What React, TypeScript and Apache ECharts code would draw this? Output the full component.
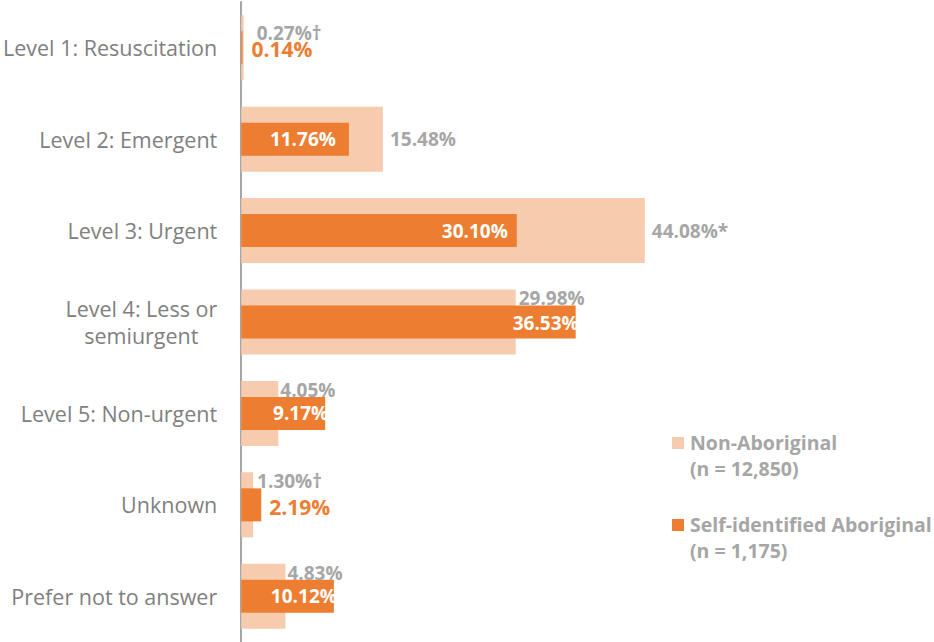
import React, { useEffect, useRef } from "react";
import * as echarts from "echarts";

const categories = [
  "Level 1: Resuscitation",
  "Level 2: Emergent",
  "Level 3: Urgent",
  "Level 4: Less or\nsemiurgent",
  "Level 5: Non-urgent",
  "Unknown",
  "Prefer not to answer",
];
const nonAboriginal = [0.27, 15.48, 44.08, 29.98, 4.05, 1.3, 4.83];
const nonAboriginalNotes = ["†", "", "*", "", "", "†", ""];
const aboriginal = [0.14, 11.76, 30.1, 36.53, 9.17, 2.19, 10.12];
const legendNames = ["Non-Aboriginal", "Self-identified Aboriginal"];
const legendCounts = ["(n = 12,850)", "(n = 1,175)"];

// label layout (style only)
const nonAbOffsets: number[][] = [[11, -15], [5, 0], [5, 0], [1, -24], [0, -23], [2, -24], [0, -23]];
const abInside = [false, true, true, true, true, false, true];
const abOffsets: number[][] = [[7, 1], [-13, 0], [-9, 0], [3, 1], [3, 0], [6, 2], [3, 0]];

const LIGHT = "#F7CBAD";
const ORANGE = "#ED7D31";
const GRAY = "#A6A6A6";
const FONT = "'Open Sans', 'Noto Sans', sans-serif";

export default function App() {
  const ref = useRef<HTMLDivElement>(null);
  useEffect(() => {
    if (!ref.current) return;
    const chart = echarts.init(ref.current, undefined, { renderer: "svg" });
    const valueLabel = {
      fontFamily: FONT,
      fontWeight: "bold" as const,
    };
    chart.setOption({
      animation: false,
      grid: { left: 241, right: 235, top: 2, bottom: 0, containLabel: false },
      xAxis: { type: "value", min: 0, max: 50, show: false },
      yAxis: [
        {
          type: "category",
          data: categories,
          inverse: true,
          axisLine: { show: true, lineStyle: { color: "#A6A6A6", width: 2 } },
          axisTick: { show: false },
          splitLine: { show: false },
          axisLabel: {
            margin: 24,
            color: "#808080",
            fontFamily: FONT,
            fontSize: 21.5,
            lineHeight: 27,
            formatter: (v: string) =>
              v
                .split("\n")
                .map((s) => "{c|" + s + "}")
                .join("\n"),
            rich: {
              c: {
                align: "center",
                color: "#808080",
                fontFamily: FONT,
                fontSize: 21.5,
                lineHeight: 27,
              },
            },
          },
        },
        {
          type: "category",
          data: categories,
          inverse: true,
          show: false,
          position: "left",
        },
      ],
      series: [
        {
          name: legendNames[0],
          type: "bar",
          yAxisIndex: 0,
          barWidth: 65,
          itemStyle: { color: LIGHT },
          data: nonAboriginal.map((v, i) => ({
            value: v,
            label: {
              show: true,
              position: "right",
              distance: 2,
              offset: nonAbOffsets[i],
              color: GRAY,
              fontSize: 19,
              ...valueLabel,
              formatter: v.toFixed(2) + "%" + nonAboriginalNotes[i],
            },
          })),
        },
        {
          name: legendNames[1],
          type: "bar",
          yAxisIndex: 1,
          barWidth: 33,
          itemStyle: { color: ORANGE },
          data: aboriginal.map((v, i) => ({
            value: v,
            label: {
              show: true,
              position: abInside[i] ? "insideRight" : "right",
              distance: abInside[i] ? 0 : 2,
              offset: abOffsets[i],
              color: abInside[i] ? "#FFFFFF" : ORANGE,
              fontSize: abInside[i] ? 19 : 21,
              ...valueLabel,
              formatter: v.toFixed(2) + "%",
            },
          })),
        },
      ],
      graphic: [
        { type: "rect", left: 672, top: 437, shape: { width: 12, height: 12 }, style: { fill: LIGHT } },
        {
          type: "text",
          left: 690,
          top: 429,
          style: {
            text: legendNames[0] + "\n" + legendCounts[0],
            fill: GRAY,
            font: "bold 19.5px " + FONT,
            lineHeight: 26,
          },
        },
        { type: "rect", left: 672, top: 519, shape: { width: 12, height: 12 }, style: { fill: ORANGE } },
        {
          type: "text",
          left: 690,
          top: 511,
          style: {
            text: legendNames[1] + "\n" + legendCounts[1],
            fill: GRAY,
            font: "bold 19.5px " + FONT,
            lineHeight: 26,
          },
        },
      ],
    });
    return () => chart.dispose();
  }, []);
  return (
    <div
      ref={ref}
      style={{ position: "fixed", left: 0, top: 0, width: 934, height: 642, background: "#fff" }}
    />
  );
}
